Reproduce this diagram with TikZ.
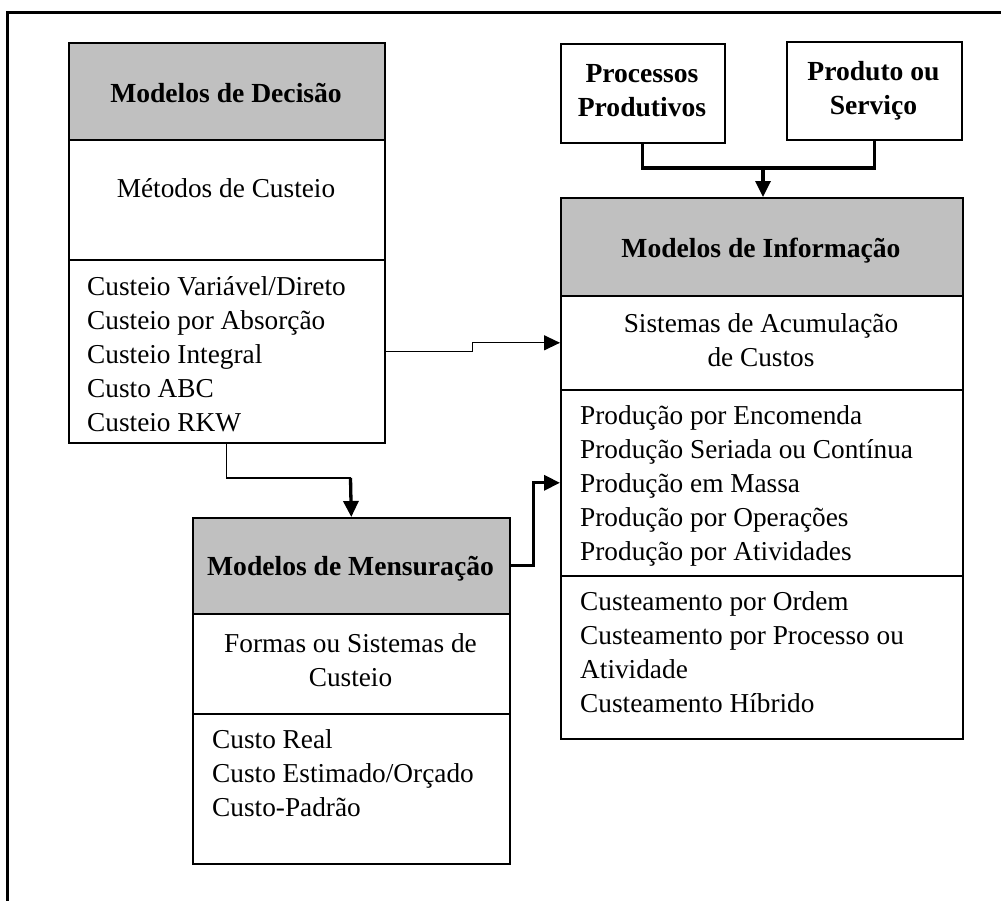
\documentclass[tikz,border=0pt]{standalone}
\usepackage{fontspec}
\setmainfont{Liberation Serif}
\usetikzlibrary{arrows.meta}
\definecolor{headgray}{HTML}{C0C0C0}

\begin{document}
\begin{tikzpicture}[x=1pt,y=-1pt,
  box/.style={draw=black, line width=1.6pt, rectangle, inner sep=0pt, anchor=north west},
  headbox/.style={box, fill=headgray},
  txt/.style={inner sep=0pt, anchor=north, align=center, font=\fontsize{27.3}{34}\selectfont},
  bold/.style={txt, font=\fontsize{27.6}{34}\selectfont\bfseries},
  listtxt/.style={inner sep=0pt, anchor=north west, align=left, font=\fontsize{27.3}{34}\selectfont},
  thinline/.style={line width=1.3pt},
  thickline/.style={line width=3.3pt},
  tip/.style={-{Triangle[length=16pt,width=15pt]}}
]
\useasboundingbox (0,0) rectangle (1001,900);

% open frame: top and left edges only
\draw[line width=3pt] (7.5,910) -- (7.5,12.5) -- (1010,12.5);

% Modelos de Decisao
\node[headbox, minimum width=316pt, minimum height=97pt]  (decH) at (68,42)  {};
\node[box,     minimum width=316pt, minimum height=120pt] (decM) at (68,139) {};
\node[box,     minimum width=316pt, minimum height=183pt] (decL) at (68,259) {};
\node[bold] (decHt) at (226,78.2)  {\strut Modelos de Decisão};
\node[txt]  (decMt) at (226,173.2) {\strut Métodos de Custeio};
\node[listtxt] (decLt) at (87,271.2) {\strut Custeio Variável/Direto\\ \strut Custeio por Absorção\\ \strut Custeio Integral\\ \strut Custo ABC\\ \strut Custeio RKW};

% Processos / Produto
\node[box, minimum width=164pt, minimum height=99pt] (pp) at (560,43) {};
\node[box, minimum width=175pt, minimum height=98pt] (ps) at (786,41) {};
\node[bold] (ppt) at (642,58.2)   {\strut Processos\\ \strut Produtivos};
\node[bold] (pst) at (873.5,56.2) {\strut Produto ou\\ \strut Serviço};

% Modelos de Informacao
\node[headbox, minimum width=402pt, minimum height=98pt]  (infoH) at (560,197) {};
\node[box,     minimum width=402pt, minimum height=94pt]  (infoM) at (560,295) {};
\node[box,     minimum width=402pt, minimum height=186pt] (infoL) at (560,389) {};
\node[box,     minimum width=402pt, minimum height=163pt] (infoC) at (560,575) {};
\node[bold] (infoHt) at (761,233.2) {\strut Modelos de Informação};
\node[txt]  (infoMt) at (761,308.2) {\strut Sistemas de Acumulação\\ \strut de Custos};
\node[listtxt] (infoLt) at (580,400.2) {\strut Produção por Encomenda\\ \strut Produção Seriada ou Contínua\\ \strut Produção em Massa\\ \strut Produção por Operações\\ \strut Produção por Atividades};
\node[listtxt] (infoCt) at (580,586.2) {\strut Custeamento por Ordem\\ \strut Custeamento por Processo ou\\ \strut Atividade\\ \strut Custeamento Híbrido};

% Modelos de Mensuracao
\node[headbox, minimum width=317pt, minimum height=96pt]  (mensH) at (192,517) {};
\node[box,     minimum width=317pt, minimum height=100pt] (mensM) at (192,613) {};
\node[box,     minimum width=317pt, minimum height=150pt] (mensL) at (192,713) {};
\node[bold] (mensHt) at (350.5,551.2) {\strut Modelos de Mensuração};
\node[txt]  (mensMt) at (350.5,628.2) {\strut Formas ou Sistemas de\\ \strut Custeio};
\node[listtxt] (mensLt) at (212,724.2) {\strut Custo Real\\ \strut Custo Estimado/Orçado\\ \strut Custo-Padrão};

% connectors
\coordinate (merge) at (763,168);
\draw[thickline] (pp.south) |- (merge) -| (ps.south);
\draw[thickline, tip] (merge) -- (merge |- infoH.north);

\draw[thinline, tip] (decL.east) -- ++(87,0) |- (infoM.west);

\coordinate (drop) at (350.5,478);
\draw[thinline] (decL.south) |- (drop);
\draw[thickline, tip] (drop) -- (mensH.north);

\draw[thickline, tip] (mensH.east) -- ++(23,0) |- (infoL.west);
\end{tikzpicture}
\end{document}
